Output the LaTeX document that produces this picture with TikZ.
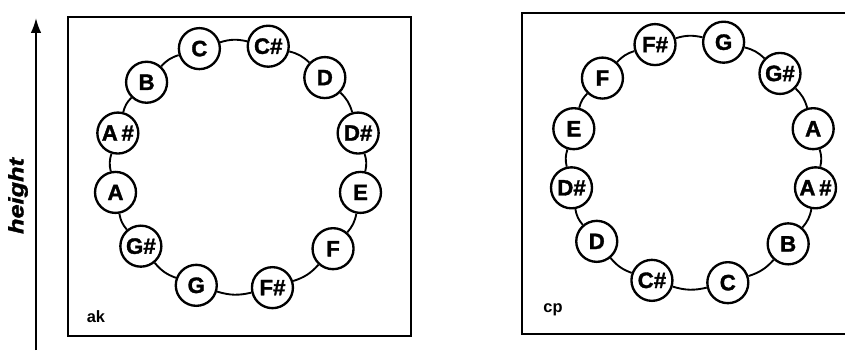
\documentclass[tikz,border=0pt]{standalone}
\usepackage{fontspec}
\setmainfont{Liberation Sans}
\newfontfamily\heavyfont{Liberation Sans}[FakeBold=1.5]
\usetikzlibrary{arrows.meta}
\tikzset{
    note/.style =   {circle,
                    fill=white,
                    draw=black,
                    text=black,
                    line width=2pt,
                    inner sep=0pt,
                    minimum size=12.3mm,
                    font=\heavyfont\fontsize{19}{22}\selectfont\bfseries},
    panel/.style =  {draw=black,
                    line width=1.6pt},
    ring/.style =   {draw=black,
                    line width=1.6pt},
    tag/.style =    {text=black,
                    inner sep=0pt,
                    font=\fontsize{14}{16}\selectfont\bfseries},
    -,
    >={Latex[length=4.5mm,width=3.2mm]}}

\begin{document}
\begin{tikzpicture}[x=0.3mm,y=0.3mm]
    \clip (0,0) rectangle (845,353);
    % height axis
    \coordinate (low)  at (36,3);
    \coordinate (high) at (36,335);
    \draw [line width=1.6pt,->] (low) -- (high);
    \node [rotate=90,inner sep=0pt] (hgt) at (18,157)
        {\heavyfont\fontsize{18}{20}\selectfont\bfseries\itshape\scalebox{1.2}[1]{height}};
    % panels
    \draw [panel] (68,17) rectangle (411,336);
    \draw [panel] (522,19) rectangle (860,340);
    \node [tag] (ak) at (96,36) {ak};
    \node [tag] (cp) at (553,43) {cp};
    % left ring
    \begin{scope}[shift={(238,185.5)}]
        \foreach \n/\a [count=\i] in {C/108, C\#/76, D/46, D\#/16, E/-11.5, F/-40.5,
                F\#/-74, G/-109.5, G\#/-141, A/-168.5, A\thinspace\#/164, B/137}
            \node [note] (L\i) at (\a:125) {\n};
    \end{scope}
    \foreach \i [remember=\i as \j (initially 12)] in {1,...,12}
        \path [ring] (L\j) edge [bend left=15] (L\i);
    % right ring
    \begin{scope}[shift={(693.5,190)}]
        \foreach \n/\a [count=\i] in {F\#/108, G/76, G\#/46, A/16, A\thinspace\#/-11.5, B/-40.5,
                C/-74, C\#/-109.5, D/-141, D\#/-168.5, E/164, F/137}
            \node [note] (R\i) at (\a:124.5) {\n};
    \end{scope}
    \foreach \i [remember=\i as \j (initially 12)] in {1,...,12}
        \path [ring] (R\j) edge [bend left=15] (R\i);
\end{tikzpicture}
\end{document}
